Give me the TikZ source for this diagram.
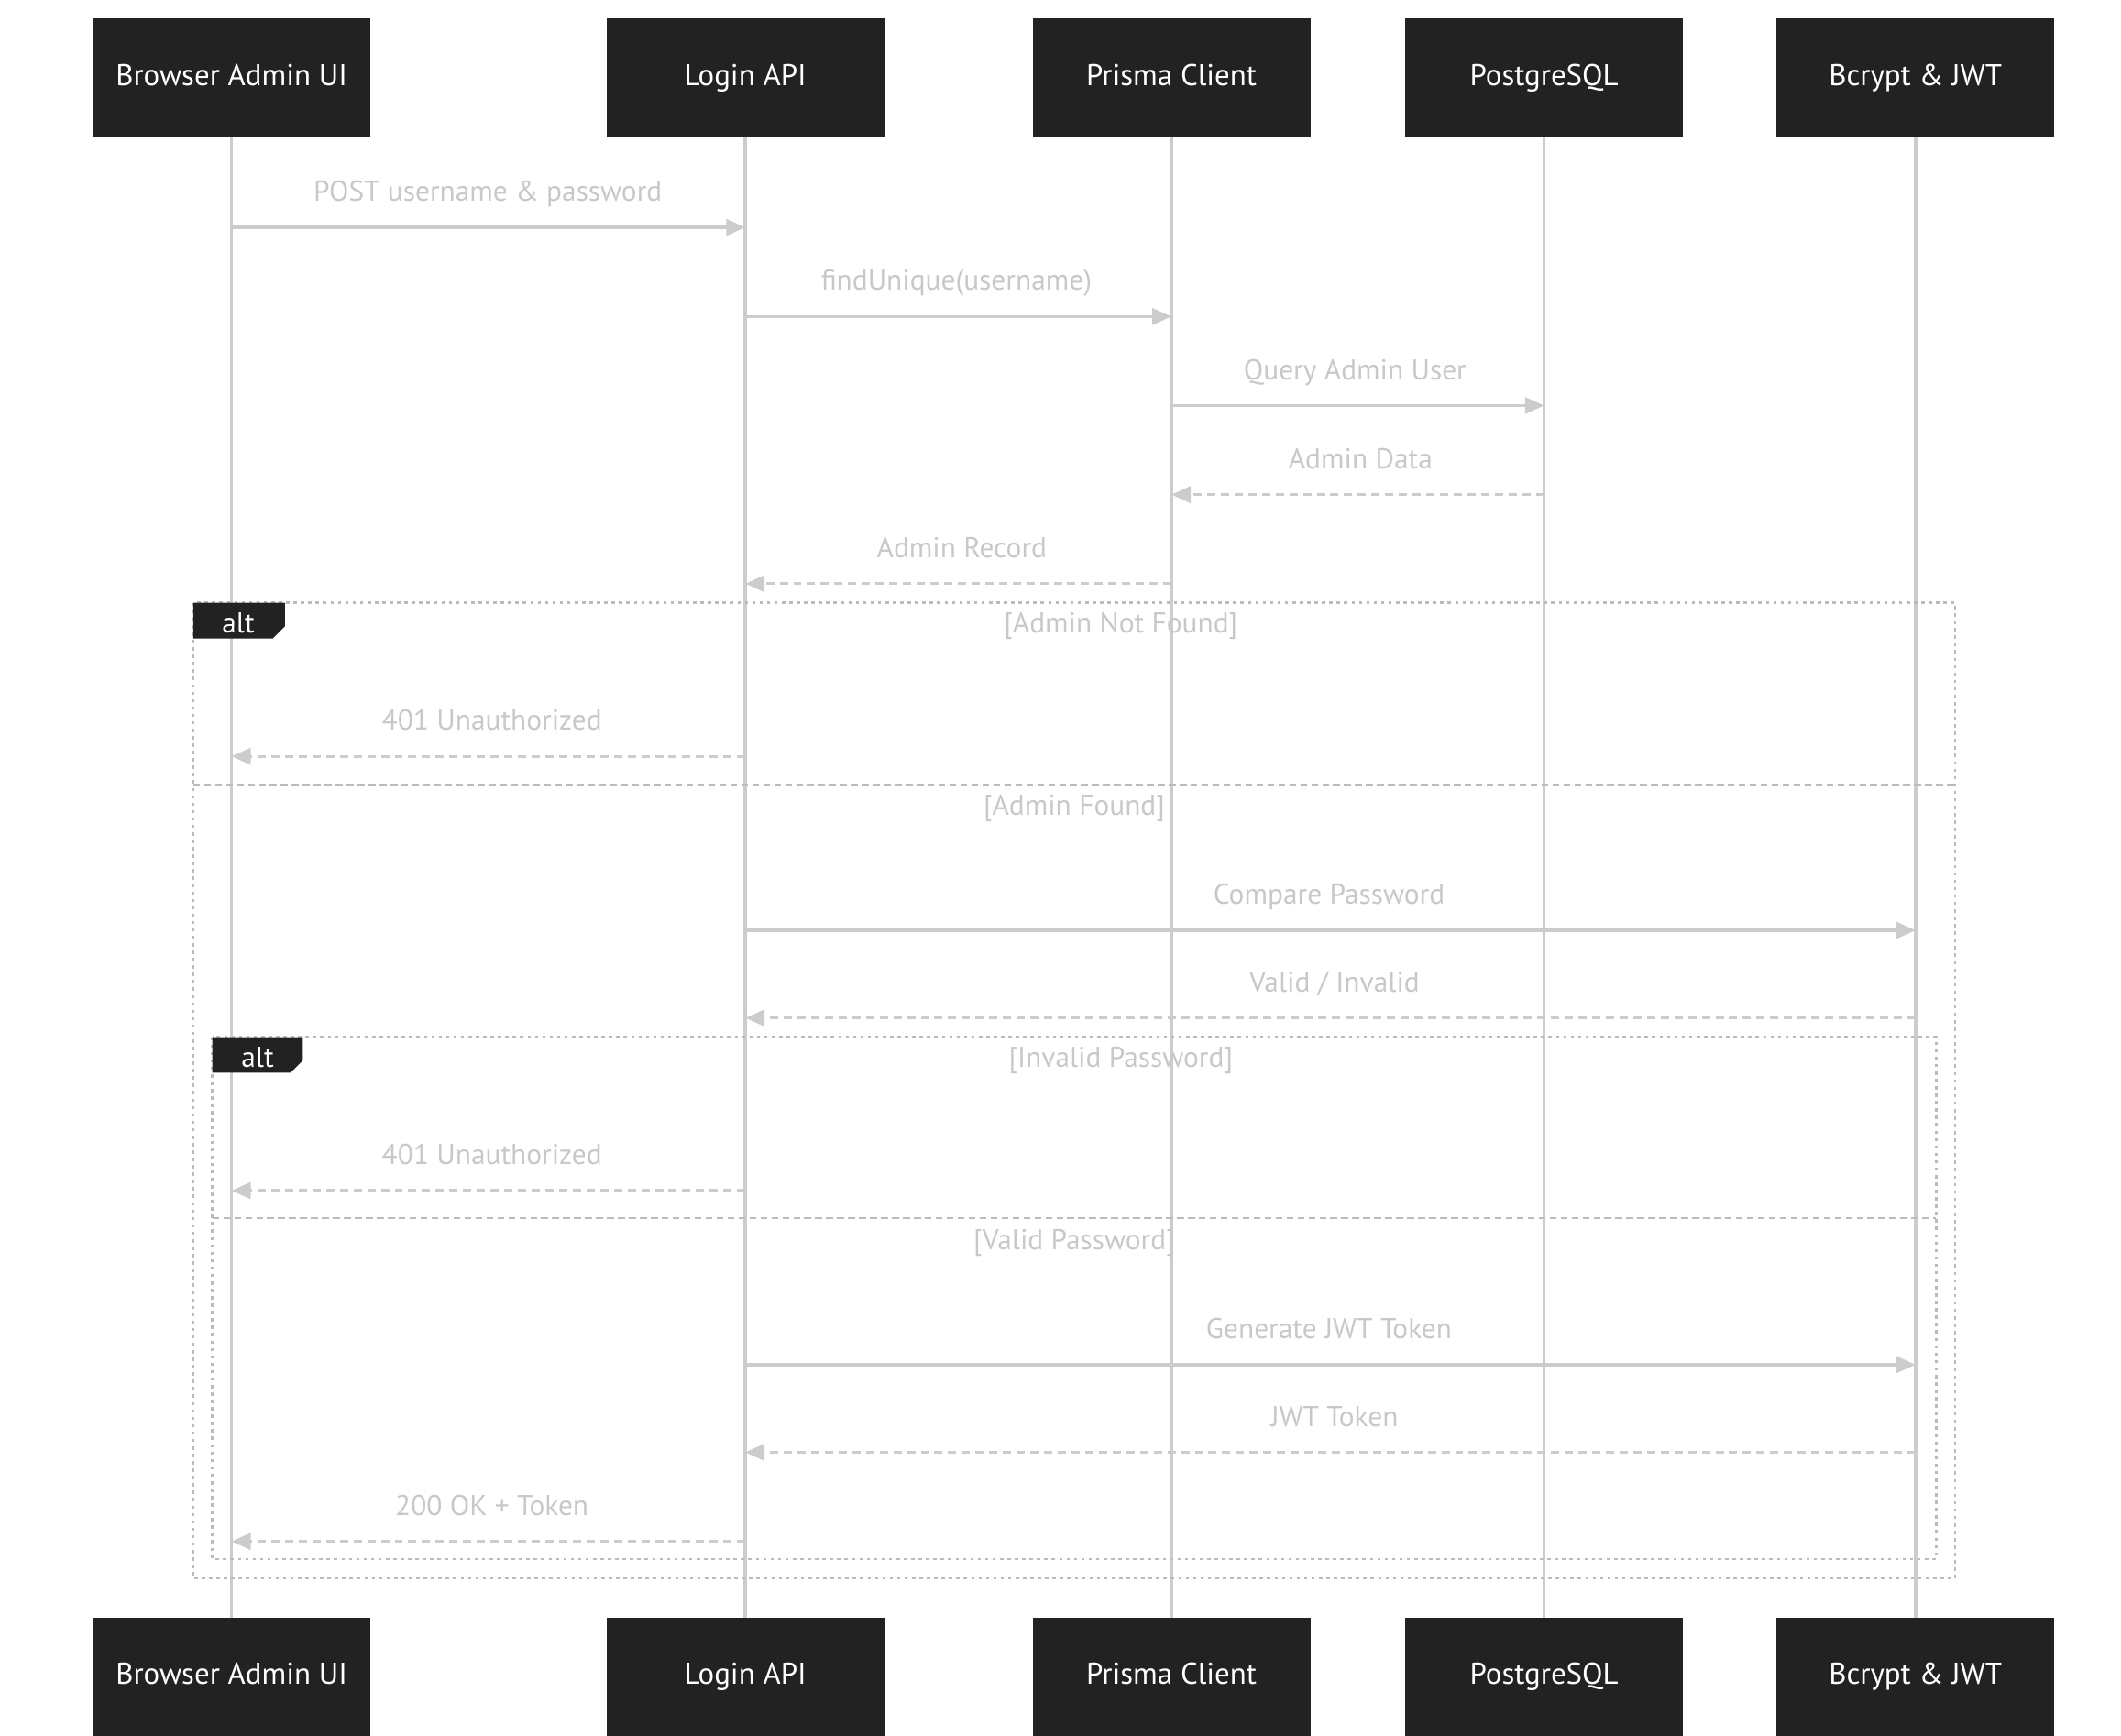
\documentclass[tikz,border=0pt]{standalone}
\usepackage{fontspec}
\setmainfont{PT Sans}
\usetikzlibrary{arrows.meta}
\definecolor{boxc}{HTML}{222222}
\definecolor{linec}{HTML}{CCCCCC}
\definecolor{txtc}{HTML}{C8C8C8}
\definecolor{framec}{HTML}{BBBBBB}
\begin{document}
\begin{tikzpicture}[x=0.5pt,y=-0.5pt,
 actor/.style={fill=boxc,draw=boxc,minimum width=101pt,minimum height=43pt,text=white,font=\fontsize{11}{13}\selectfont,inner sep=0pt,text height=8pt,text depth=2.5pt},
 life/.style={draw=linec,line width=1.2pt},
 msg/.style={draw=linec,line width=1.1pt,-{Triangle[length=7pt,width=6pt]}},
 rep/.style={msg,dash pattern=on 3pt off 2pt},
 lab/.style={text=txtc,font=\fontsize{10.5}{12}\selectfont,anchor=base},
 frame/.style={draw=framec,line width=0.9pt,dash pattern=on 1.2pt off 1.5pt},
 divider/.style={draw=framec,line width=0.9pt,dash pattern=on 2.5pt off 1.5pt},
 tab/.style={fill=boxc}]
\useasboundingbox (0,0) rectangle (1548,1267);
\foreach \n/\x/\t in {a/169/Browser Admin UI,b/544/Login API,c/855/Prisma Client,d/1127/PostgreSQL,e/1398/Bcrypt \& JWT}{
 \node[actor] (\n top) at (\x,57) {\t};
 \node[actor] (\n bot) at (\x,1224) {\t};
 \draw[life] (\n top.south) -- (\n bot.north);
}
% frames
\draw[frame] (141,440) rectangle (1427,1152);
\fill[tab] (141,440) -- (208,440) -- (208,457) -- (199,466) -- (141,466) -- cycle;
\node[text=white,font=\fontsize{10.5}{12}\selectfont] (alt1) at (174,455) {alt};
\node[lab,anchor=center] (g1) at (818,457) {[Admin Not Found]};
\draw[divider] (141,573) -- (1427,573);
\node[lab,anchor=center] (g2) at (784,590) {[Admin Found]};
\draw[frame] (155,757) rectangle (1413,1138);
\fill[tab] (155,757) -- (221,757) -- (221,774) -- (212,783) -- (155,783) -- cycle;
\node[text=white,font=\fontsize{10.5}{12}\selectfont] (alt2) at (188,772) {alt};
\node[lab,anchor=center] (g3) at (818,774) {[Invalid Password]};
\draw[divider] (155,889) -- (1413,889);
\node[lab,anchor=center] (g4) at (784,907) {[Valid Password]};
% messages
\foreach \i/\s/\t/\y/\st/\lx/\txt in {
 1/a/b/166/msg/356/{POST username \& password},
 2/b/c/231/msg/698/{findUnique(username)},
 3/c/d/296/msg/989/{Query Admin User},
 4/d/c/361/rep/993/{Admin Data},
 5/c/b/426/rep/702/{Admin Record},
 6/b/a/552/rep/359/{401 Unauthorized},
 7/b/e/679/msg/970/{Compare Password},
 8/e/b/743/rep/974/{Valid / Invalid},
 9/b/a/869/rep/359/{401 Unauthorized},
 10/b/e/996/msg/970/{Generate JWT Token},
 11/e/b/1060/rep/974/{JWT Token},
 12/b/a/1125/rep/359/{200 OK + Token}}{
 \coordinate (m\i s) at (\s top.south |- 0,\y);
 \coordinate (m\i t) at (\t top.south |- 0,\y);
 \draw[\st] (m\i s) -- (m\i t);
 \node[lab] (l\i) at (\lx,\y-19) {\txt};
}
\end{tikzpicture}
\end{document}
